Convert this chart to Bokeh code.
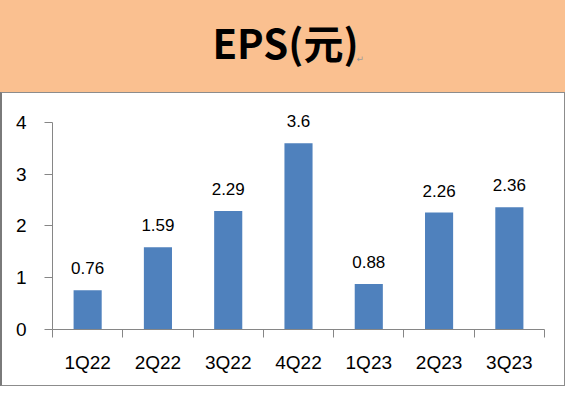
from bokeh.plotting import figure
from bokeh.layouts import column
from bokeh.models import Range1d, FixedTicker, ColumnDataSource, Label
from bokeh.core.properties import value
from bokeh.embed import file_html
from bokeh.resources import INLINE

# ---- data ----
title_text = "EPS(元)"
categories = ["1Q22", "2Q22", "3Q22", "4Q22", "1Q23", "2Q23", "3Q23"]
eps = [0.76, 1.59, 2.29, 3.6, 0.88, 2.26, 2.36]
eps_labels = ["0.76", "1.59", "2.29", "3.6", "0.88", "2.26", "2.36"]
y_ticks = [0, 1, 2, 3, 4]

BAR = "#4F81BD"
PEACH = "#FAC090"
AXIS = "#868686"
FONT = "Liberation Sans"
LEFT, RIGHT = 50, 23

# ---- header ----
h = figure(width=565, height=92, x_range=Range1d(0, 1), y_range=Range1d(0, 1),
           toolbar_location=None, output_backend="svg",
           min_border_left=LEFT, min_border_right=RIGHT, min_border_top=0, min_border_bottom=0,
           background_fill_color=None, border_fill_color=None, outline_line_color=None)
h.styles = {"background-color": PEACH}
h.axis.visible = False
h.grid.visible = False
h.add_layout(Label(x=285 - LEFT, y=51, x_units="screen", y_units="screen", text=title_text,
                   text_align="center", text_baseline="alphabetic",
                   text_font="Noto Sans CJK TC", text_font_style="bold",
                   text_font_size="40px", text_color="#000000"))
h.add_layout(Label(x=356 - LEFT, y=34, x_units="screen", y_units="screen", text="↵",
                   text_align="left", text_baseline="alphabetic",
                   text_font="DejaVu Sans", text_font_size="9px", text_color="#9a9a9a"))

# ---- chart ----
n = len(categories)
centers = [i + 0.5 for i in range(n)]
src = ColumnDataSource(dict(x=centers, eps=eps, lbl=eps_labels))

p = figure(width=565, height=294, x_range=Range1d(0, n), y_range=Range1d(0, 4.367),
           toolbar_location=None, output_backend="svg",
           min_border_left=LEFT, min_border_right=RIGHT, min_border_top=10, min_border_bottom=58,
           outline_line_color=None, background_fill_color="white", border_fill_color="white")
p.styles = {"border": "1px solid #8c8c8c", "border-left": "2px solid #7a7a7a"}

p.vbar(x="x", top="eps", width=0.4, source=src, fill_color=BAR, line_color=None)
p.text(x="x", y="eps", text="lbl", source=src, text_align="center", text_baseline="alphabetic",
       y_offset=-22, text_font=value(FONT), text_font_size="17px", text_color="#000000")

p.xgrid.visible = False
p.ygrid.visible = False

xa = p.xaxis[0]
xa.ticker = FixedTicker(ticks=centers, minor_ticks=list(range(n + 1)))
xa.major_label_overrides = {c: lab for c, lab in zip(centers, categories)}
xa.major_tick_out = 0
xa.major_tick_in = 0
xa.minor_tick_out = 8
xa.minor_tick_in = 0
xa.minor_tick_line_color = AXIS
xa.axis_line_color = AXIS
xa.major_label_standoff = 14
xa.major_label_text_font = FONT
xa.major_label_text_font_size = "19px"
xa.major_label_text_color = "#000000"

ya = p.yaxis[0]
ya.ticker = FixedTicker(ticks=y_ticks)
ya.bounds = (0, 4)
ya.major_tick_out = 8
ya.major_tick_in = 0
ya.minor_tick_line_color = None
ya.major_tick_line_color = AXIS
ya.axis_line_color = AXIS
ya.major_label_standoff = 18
ya.major_label_text_font = FONT
ya.major_label_text_font_size = "19px"
ya.major_label_text_color = "#000000"

layout = column(h, p, spacing=0)
open("out.html", "w").write(file_html(layout, INLINE))
